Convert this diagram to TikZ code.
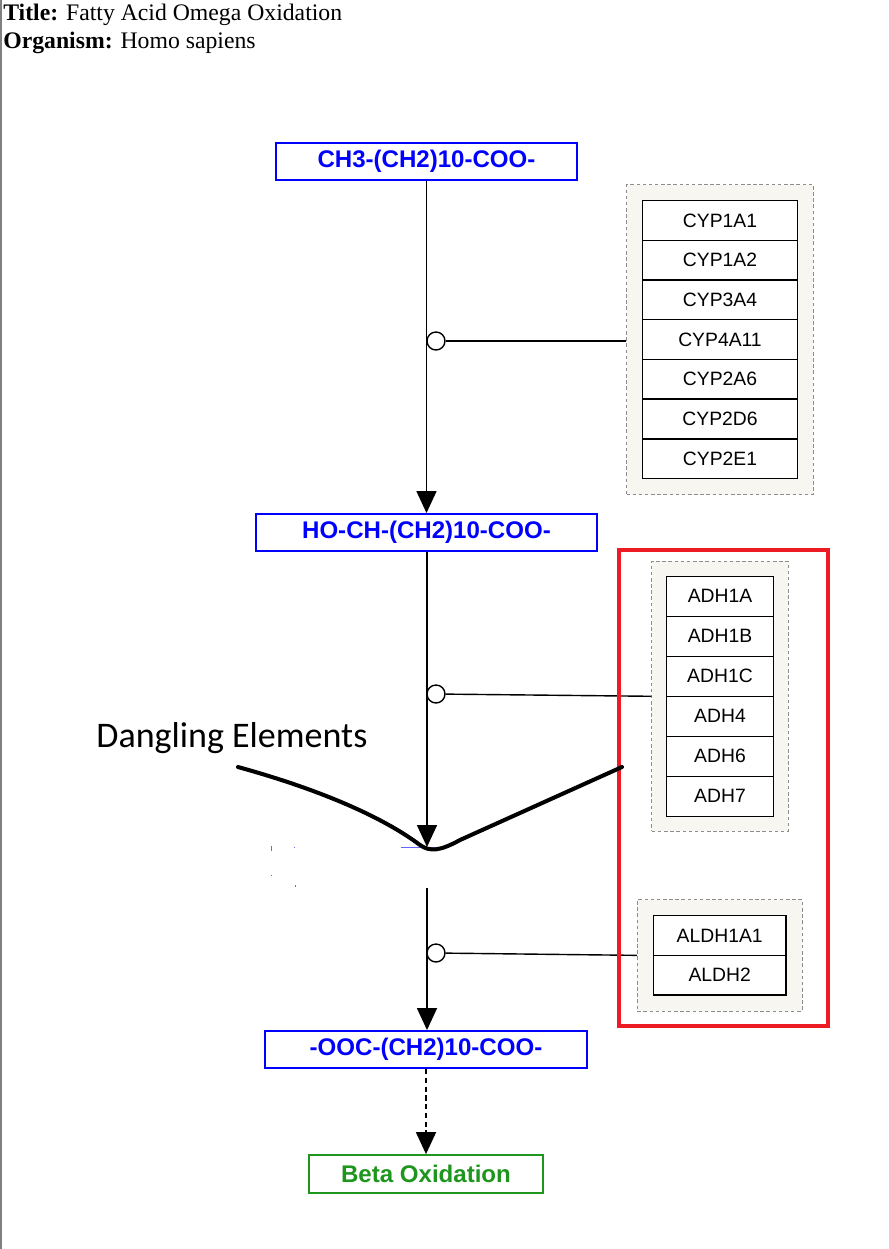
\documentclass[tikz,border=0pt]{standalone}
\usepackage{fontspec}
\setmainfont{Liberation Serif}
\setsansfont{Liberation Sans}
\newfontfamily\notefont{Carlito}
\usetikzlibrary{arrows.meta, positioning, fit, backgrounds}
\definecolor{cBlue}{RGB}{0,0,255}
\definecolor{cGreen}{RGB}{30,150,30}
\definecolor{cRed}{RGB}{237,28,36}
\definecolor{cCream}{RGB}{247,246,240}
\definecolor{cFrame}{RGB}{140,140,140}
\tikzset{
    metabolite/.style={rectangle, draw=cBlue, line width=1.1pt, text=cBlue, minimum height=0.74cm, inner sep=0pt, font=\sffamily\bfseries\fontsize{13.7}{16}\selectfont},
    pathway/.style   ={rectangle, draw=cGreen, line width=1pt, text=cGreen, minimum height=0.76cm, inner sep=0pt, font=\sffamily\bfseries\fontsize{13.7}{16}\selectfont},
    genebox/.style   ={rectangle, draw=black, line width=0.8pt, fill=white, minimum height=0.794cm, inner sep=0pt, outer sep=0pt, font=\sffamily\fontsize{11}{13}\selectfont},
    genegroup/.style ={rectangle, draw=cFrame, dash pattern=on 2pt off 1.5pt, line width=0.5pt, fill=cCream, inner sep=0.32cm},
    anchorpt/.style  ={circle, draw=black, fill=white, line width=0.8pt, minimum size=0.36cm, inner sep=0pt},
    flowarrow/.style ={-{Triangle[length=0.44cm, width=0.4cm]}, line width=0.9pt},
}

\begin{document}
\begin{tikzpicture}[x=0.02cm, y=-0.02cm]
    \useasboundingbox (0,0) rectangle (889,1249);
    \draw[gray, line width=1.2pt] (1,0) -- (1,1249);
    \node[anchor=base west, inner sep=0pt, font=\fontsize{13.5}{16}\selectfont] (title) at (3,20) {\textbf{Title:} Fatty Acid Omega Oxidation};
    \node[anchor=base west, inner sep=0pt, font=\fontsize{13.5}{16}\selectfont] (organism) at (3,48) {\textbf{Organism:} Homo sapiens};

    \node[metabolite, minimum width=6.02cm] (lauric) at (426.5,161.5) {CH3-(CH2)10-COO-};
    \node[metabolite, minimum width=6.82cm] (hydroxy) at (426.5,532.5) {HO-CH-(CH2)10-COO-};
    \node[metabolite, minimum width=6.44cm] (dioic) at (426,1049.5) {-OOC-(CH2)10-COO-};
    \node[pathway, minimum width=4.68cm] (beta) at (426,1174) {Beta Oxidation};

    \node[genebox, minimum width=3.1cm] (cyp1a1) at (720,220.5) {CYP1A1};
    \node[genebox, minimum width=3.1cm, below=0pt of cyp1a1] (cyp1a2) {CYP1A2};
    \node[genebox, minimum width=3.1cm, below=0pt of cyp1a2] (cyp3a4) {CYP3A4};
    \node[genebox, minimum width=3.1cm, below=0pt of cyp3a4] (cyp4a11) {CYP4A11};
    \node[genebox, minimum width=3.1cm, below=0pt of cyp4a11] (cyp2a6) {CYP2A6};
    \node[genebox, minimum width=3.1cm, below=0pt of cyp2a6] (cyp2d6) {CYP2D6};
    \node[genebox, minimum width=3.1cm, below=0pt of cyp2d6] (cyp2e1) {CYP2E1};

    \node[genebox, minimum width=2.13cm, minimum height=0.8cm] (adh1a) at (720,596.3) {ADH1A};
    \node[genebox, minimum width=2.13cm, minimum height=0.8cm, below=0pt of adh1a] (adh1b) {ADH1B};
    \node[genebox, minimum width=2.13cm, minimum height=0.8cm, below=0pt of adh1b] (adh1c) {ADH1C};
    \node[genebox, minimum width=2.13cm, minimum height=0.8cm, below=0pt of adh1c] (adh4) {ADH4};
    \node[genebox, minimum width=2.13cm, minimum height=0.8cm, below=0pt of adh4] (adh6) {ADH6};
    \node[genebox, minimum width=2.13cm, minimum height=0.8cm, below=0pt of adh6] (adh7) {ADH7};

    \node[genebox, minimum width=2.66cm] (aldh1a1) at (719.7,935.5) {ALDH1A1};
    \node[genebox, minimum width=2.66cm, below=0pt of aldh1a1] (aldh2) {ALDH2};

    \begin{scope}[on background layer]
        \node[genegroup, fit=(cyp1a1)(cyp2e1)] (cypgroup) {};
        \node[genegroup, fit=(adh1a)(adh7), inner sep=0.3cm] (adhgroup) {};
        \node[genegroup, fit=(aldh1a1)(aldh2), inner sep=0.32cm] (aldhgroup) {};
    \end{scope}

    \coordinate (dangleend) at (427,847);
    \coordinate (danglestart) at (427,888);
    \draw[flowarrow] (lauric) -- (hydroxy);
    \draw[flowarrow] (hydroxy.south -| dangleend) -- (dangleend);
    \draw[flowarrow] (danglestart) -- (dioic.north -| danglestart);
    \draw[flowarrow, dash pattern=on 3pt off 2pt] (dioic) -- (beta);

    \node[anchorpt] (cypcat) at (436,341) {};
    \node[anchorpt] (adhcat) at (436,694) {};
    \node[anchorpt] (aldhcat) at (436,953) {};
    \draw[line width=0.8pt] (cypcat) -- (cypcat -| cypgroup.west);
    \draw[line width=0.8pt] (adhcat) -- (adhgroup.west);
    \draw[line width=0.8pt] (aldhcat) -- (aldhgroup.west);

    \draw[cBlue!60, line width=0.5pt] (401,847) -- (441,847);
    \draw[cBlue!60, line width=0.5pt] (271,846) -- (271,851) (294,847) -- (294,848) (271,875) -- (271,876) (295,885) -- (295,887);

    \draw[cRed, line width=2.3pt] (619,550) rectangle (828,1026);

    \node[anchor=base west, inner sep=0pt, font=\notefont\fontsize{20.5}{24}\selectfont] (dangling) at (96,747) {Dangling Elements};
    \draw[line width=2.3pt, line cap=round] (238,767) .. controls (350,798) and (400,830) .. (420,845) .. controls (430,852) and (440,851) .. (460,840) -- (622,767);
\end{tikzpicture}
\end{document}
